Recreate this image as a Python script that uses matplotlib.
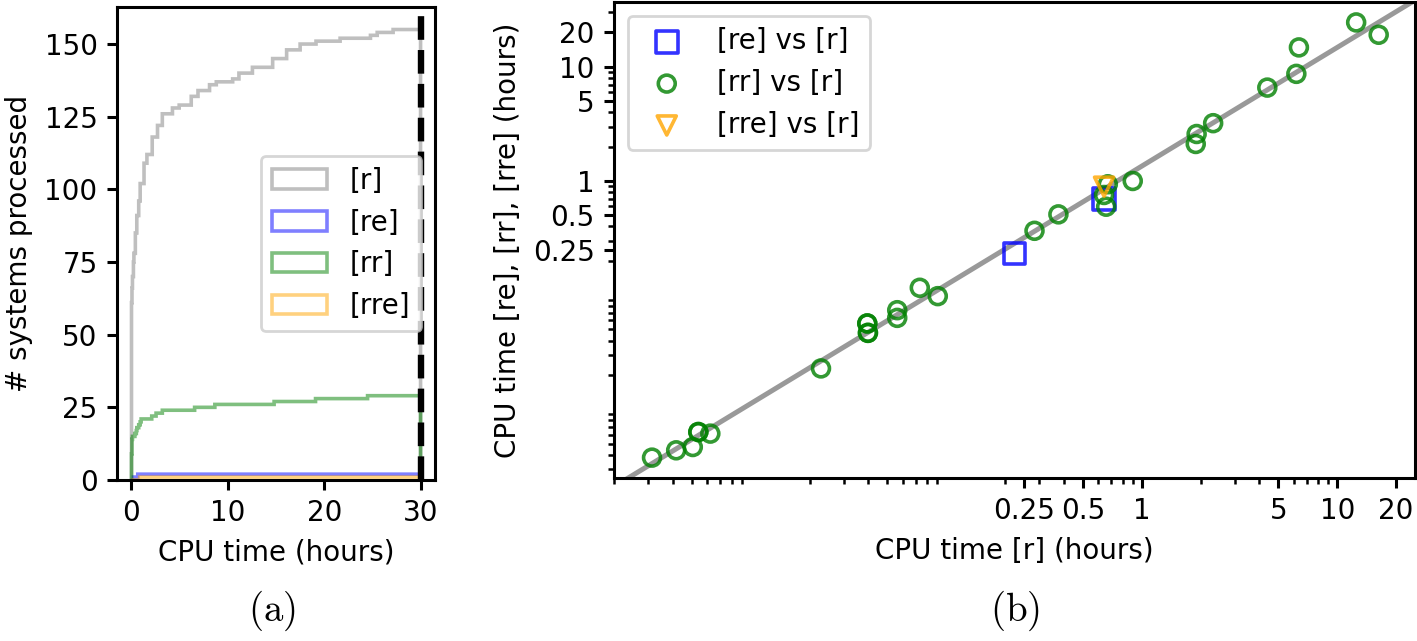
import numpy as np
import matplotlib
matplotlib.use("Agg")
import matplotlib.pyplot as plt

plt.rcParams['mathtext.fontset'] = 'cm'
plt.rcParams['axes.linewidth'] = 1.1
plt.rcParams['xtick.major.width'] = 1.1
plt.rcParams['ytick.major.width'] = 1.1
plt.rcParams['xtick.minor.width'] = 0.9
plt.rcParams['ytick.minor.width'] = 0.9

# ---- panel (b): CPU times per system (hours) ----
# [rr] vs [r]
rr_r = [0.00313, 0.00416, 0.00506, 0.00540, 0.00540, 0.00622, 0.0229,
        0.0395, 0.0395, 0.0398, 0.0398, 0.0562, 0.0562, 0.0733, 0.0906,
        0.283, 0.375, 0.642, 0.658, 0.671, 0.900, 1.91, 1.89, 2.32,
        4.39, 6.18, 6.37, 12.5, 16.3]
rr_t = [0.00377, 0.00437, 0.00467, 0.00632, 0.00632, 0.00612, 0.0228,
        0.0565, 0.0565, 0.0467, 0.0467, 0.0738, 0.0632, 0.116, 0.098,
        0.366, 0.510, 0.754, 0.595, 0.936, 1.00, 2.58, 2.11, 3.21,
        6.58, 8.68, 14.8, 24.5, 19.1]
# [re] vs [r]
re_r = [0.224, 0.642]
re_t = [0.232, 0.691]
# [rre] vs [r]
rre_r = [0.642]
rre_t = [0.891]

log_ticks = [0.25, 0.5, 1, 5, 10, 20]
log_labels = ['0.25', '0.5', '1', '5', '10', '20']

# ---- panel (a): [r] cumulative count ----
r_times = [0.02, 0.06, 0.12, 0.2, 0.28, 0.42, 0.6, 0.77, 0.95, 1.3, 1.65,
           2.15, 2.7, 3.2, 4.25, 4.95, 6.2, 6.9, 8.1, 8.8, 10.5, 11.2,
           12.6, 14.7, 16.1, 17.5, 19.2, 21.7, 24.8, 25.5, 27.2]
r_cum = [61, 66, 70, 75, 78, 85, 91, 96, 102, 109, 112, 118, 122, 126,
         128, 129, 132, 134, 136, 137, 138, 140, 142, 145, 148, 150, 151,
         152, 153, 154, 155]
time_limit = 30

fig = plt.figure(figsize=(7.085, 3.205), dpi=200)
ax1 = fig.add_axes([0.0826, 0.2512, 0.2244, 0.7379])
ax2 = fig.add_axes([0.4333, 0.2543, 0.5653, 0.7426])

bins = np.linspace(0, time_limit, 601)
r_w = np.diff(np.concatenate([[0], r_cum]))
hist_kw = dict(bins=bins, cumulative=True, histtype='step', alpha=0.5, lw=1.3)
ax1.hist(r_times, weights=r_w, color='gray', label='[r]', **hist_kw)
ax1.hist(re_t, color='b', label='[re]', **hist_kw)
ax1.hist(rr_t, color='g', label='[rr]', **hist_kw)
ax1.hist(rre_t, color='orange', label='[rre]', **hist_kw)
ax1.axvline(time_limit, color='k', ls='--', lw=2.3)
ax1.set_xlim(-1.5, 31.5)
ax1.set_xticks([0, 10, 20, 30])
ax1.set_xlabel('CPU time (hours)')
ax1.set_ylabel('# systems processed')
ax1.legend(loc='center right')

ax2.scatter(re_r, re_t, s=61, marker='s', facecolors='none', edgecolors='b',
            alpha=0.8, linewidths=1.3, label='[re] vs [r]')
ax2.scatter(rr_r, rr_t, s=37, marker='o', facecolors='none', edgecolors='g',
            alpha=0.8, linewidths=1.3, label='[rr] vs [r]')
ax2.scatter(rre_r, rre_t, s=47, marker='v', facecolors='none', edgecolors='orange',
            alpha=0.8, linewidths=1.3, label='[rre] vs [r]')
ax2.set_xscale('log')
ax2.set_yscale('log')
ax2.set_xlim(0.002, 25)
ax2.set_ylim(0.0025, 37)

# least squares fit in log-log space
k, b = np.polyfit(np.log10(rr_r), np.log10(rr_t), 1)
xf = np.array(ax2.get_xlim())
ax2.plot(xf, 10 ** b * xf ** k, color='gray', alpha=0.8, lw=1.8, zorder=0)

ax2.set_xticks(log_ticks, log_labels)
ax2.set_yticks(log_ticks, log_labels)
ax2.set_xlabel('CPU time [r] (hours)')
ax2.set_ylabel('CPU time [re], [rr], [rre] (hours)')
ax2.legend(loc='upper left')

fig.text(0.192, 0.012, r'$\mathrm{(a)}$', ha='center', va='bottom', fontsize=14)
fig.text(0.716, 0.012, r'$\mathrm{(b)}$', ha='center', va='bottom', fontsize=14)

fig.savefig('out.png', dpi=200)
